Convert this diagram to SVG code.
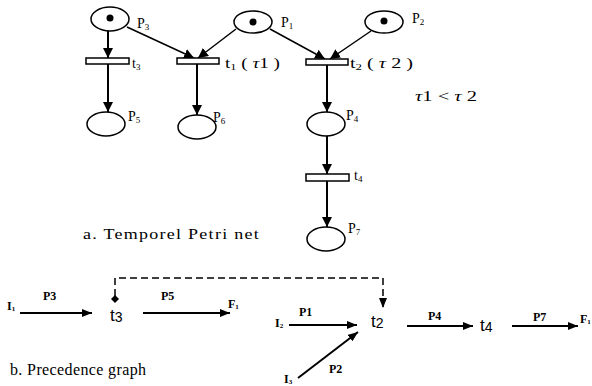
<svg xmlns="http://www.w3.org/2000/svg" width="592" height="386" viewBox="0 0 592 386">
<style>
.pl{fill:#fff;stroke:#000;stroke-width:1.5}
.tok{fill:#000}
.bar{fill:#fff;stroke:#000;stroke-width:1.5}
.ser{font-family:"Liberation Serif","Times New Roman",serif;fill:#000}
.lbl{font-size:14px}
.sub{font-size:9px}
.bl{font-family:"Liberation Serif","Times New Roman",serif;font-weight:bold;font-size:12px;fill:#000}
.bsub{font-size:7px}
.tn{font-family:"Liberation Sans",Arial,sans-serif;font-size:17px;fill:#000}
.ar{fill:none;stroke:#000;stroke-width:2}
.ad{fill:none;stroke:#000;stroke-width:1.5}
.dash{fill:none;stroke:#000;stroke-width:1.5;stroke-dasharray:7,4}
</style>
<defs>
<marker id="ah" markerUnits="userSpaceOnUse" markerWidth="10" markerHeight="10" viewBox="0 0 10 10" refX="10" refY="5" orient="auto"><path d="M0,0 L10,5 L0,10 z" fill="#000"/></marker>
<marker id="ah2" markerUnits="userSpaceOnUse" markerWidth="10" markerHeight="8" viewBox="0 0 10 8" refX="10" refY="4" orient="auto"><path d="M0,0 L10,4 L0,8 z" fill="#000"/></marker>
</defs>
<g id="connectors">
<line class="ar" x1="108" y1="31" x2="108" y2="58" marker-end="url(#ah)"/>
<line class="ar" x1="108" y1="64" x2="108" y2="112" marker-end="url(#ah)"/>
<line class="ad" x1="127" y1="27" x2="194" y2="58" marker-end="url(#ah)"/>
<line class="ad" x1="236" y1="29" x2="198" y2="58" marker-end="url(#ah)"/>
<line class="ar" x1="197" y1="64" x2="197" y2="115" marker-end="url(#ah)"/>
<line class="ad" x1="270" y1="29" x2="325" y2="59" marker-end="url(#ah)"/>
<line class="ad" x1="371" y1="31" x2="330" y2="59" marker-end="url(#ah)"/>
<line class="ar" x1="327" y1="65" x2="327" y2="112" marker-end="url(#ah)"/>
<line class="ar" x1="327" y1="136" x2="327" y2="174" marker-end="url(#ah)"/>
<line class="ar" x1="327" y1="181" x2="327" y2="227" marker-end="url(#ah)"/>
<line class="ar" x1="20" y1="313" x2="92" y2="313" marker-end="url(#ah2)"/>
<line class="ar" x1="143" y1="313" x2="230" y2="313" marker-end="url(#ah2)"/>
<polyline class="dash" points="115,296 115,278 383,278 383,308" marker-end="url(#ah2)"/>
<path d="M115,295 L119,299 L115,303 L111,299 z" fill="#000"/>
<line class="ar" x1="289" y1="325" x2="357" y2="325" marker-end="url(#ah2)"/>
<line class="ar" x1="298" y1="378" x2="358" y2="332" marker-end="url(#ah2)"/>
<line class="ar" x1="407" y1="326" x2="473" y2="326" marker-end="url(#ah2)"/>
<line class="ar" x1="512" y1="326" x2="578" y2="326" marker-end="url(#ah2)"/>
</g>
<g id="P3"><ellipse class="pl" cx="110" cy="19" rx="19" ry="12"/><circle class="tok" cx="110" cy="18" r="3.5"/><text class="ser lbl" x="137" y="28">P<tspan class="sub" dy="2">3</tspan></text></g>
<g id="P1"><ellipse class="pl" cx="253" cy="22" rx="19" ry="11"/><circle class="tok" cx="253" cy="22" r="3.5"/><text class="ser lbl" x="281" y="27">P<tspan class="sub" dy="2">1</tspan></text></g>
<g id="P2"><ellipse class="pl" cx="384" cy="22" rx="19" ry="11"/><circle class="tok" cx="384" cy="21" r="3.5"/><text class="ser lbl" x="412" y="23">P<tspan class="sub" dy="2">2</tspan></text></g>
<g id="t3"><rect class="bar" x="86" y="58" width="43" height="6"/><text class="ser lbl" x="132" y="68">t<tspan class="sub" dy="2">3</tspan></text></g>
<g id="t1"><rect class="bar" x="177" y="58" width="42" height="6"/><text class="ser lbl" x="225" y="68" textLength="55" lengthAdjust="spacingAndGlyphs">t<tspan class="sub" dy="2">1</tspan><tspan dy="-2"> ( </tspan><tspan font-style="italic">τ</tspan>1 )</text></g>
<g id="t2"><rect class="bar" x="306" y="59" width="42" height="6"/><text class="ser lbl" x="350" y="68" textLength="63" lengthAdjust="spacingAndGlyphs">t<tspan class="sub" dy="2">2</tspan><tspan dy="-2"> ( </tspan><tspan font-style="italic">τ</tspan> 2 )</text></g>
<g id="P5"><ellipse class="pl" cx="106" cy="124" rx="19" ry="12"/><text class="ser lbl" x="128" y="121">P<tspan class="sub" dy="2">5</tspan></text></g>
<g id="P6"><ellipse class="pl" cx="197" cy="127" rx="19" ry="12"/><text class="ser lbl" x="213" y="122">P<tspan class="sub" dy="2">6</tspan></text></g>
<g id="P4"><ellipse class="pl" cx="326" cy="124" rx="19" ry="12"/><text class="ser lbl" x="346" y="120">P<tspan class="sub" dy="2">4</tspan></text></g>
<g id="t4"><rect class="bar" x="306" y="174" width="43" height="7"/><text class="ser lbl" x="354" y="180">t<tspan class="sub" dy="2">4</tspan></text></g>
<g id="P7"><ellipse class="pl" cx="326" cy="239" rx="19" ry="12"/><text class="ser lbl" x="348" y="233">P<tspan class="sub" dy="2">7</tspan></text></g>
<text class="ser" font-size="14" x="415" y="101" textLength="62" lengthAdjust="spacingAndGlyphs"><tspan font-style="italic">τ</tspan>1 &lt; <tspan font-style="italic">τ</tspan> 2</text>
<text class="ser" font-size="14" x="83" y="239" letter-spacing="1" textLength="177" lengthAdjust="spacingAndGlyphs">a. Temporel Petri net</text>
<g id="bt3"><text class="tn" x="110" y="321">t<tspan font-size="14" dy="1">3</tspan></text></g>
<g id="bt2"><text class="tn" x="371" y="327">t<tspan font-size="14" dy="1">2</tspan></text></g>
<g id="bt4"><text class="tn" x="480" y="331">t<tspan font-size="14" dy="1">4</tspan></text></g>
<g id="I1"><text class="bl" x="7" y="310">I<tspan class="bsub" dy="1">1</tspan></text></g>
<g id="I2"><text class="bl" x="275" y="327">I<tspan class="bsub" dy="1">2</tspan></text></g>
<g id="I3"><text class="bl" x="284" y="383">I<tspan class="bsub" dy="1">3</tspan></text></g>
<g id="F1a"><text class="bl" x="228" y="308">F<tspan class="bsub" dy="1">1</tspan></text></g>
<g id="F1b"><text class="bl" x="580" y="323">F<tspan class="bsub" dy="1">1</tspan></text></g>
<text class="bl" x="43" y="300">P3</text>
<text class="bl" x="161" y="300">P5</text>
<text class="bl" x="299" y="316">P1</text>
<text class="bl" x="329" y="373">P2</text>
<text class="bl" x="428" y="320">P4</text>
<text class="bl" x="533" y="321">P7</text>
<text class="ser" font-size="16" x="10" y="375" textLength="136" lengthAdjust="spacing">b. Precedence graph</text>
</svg>
